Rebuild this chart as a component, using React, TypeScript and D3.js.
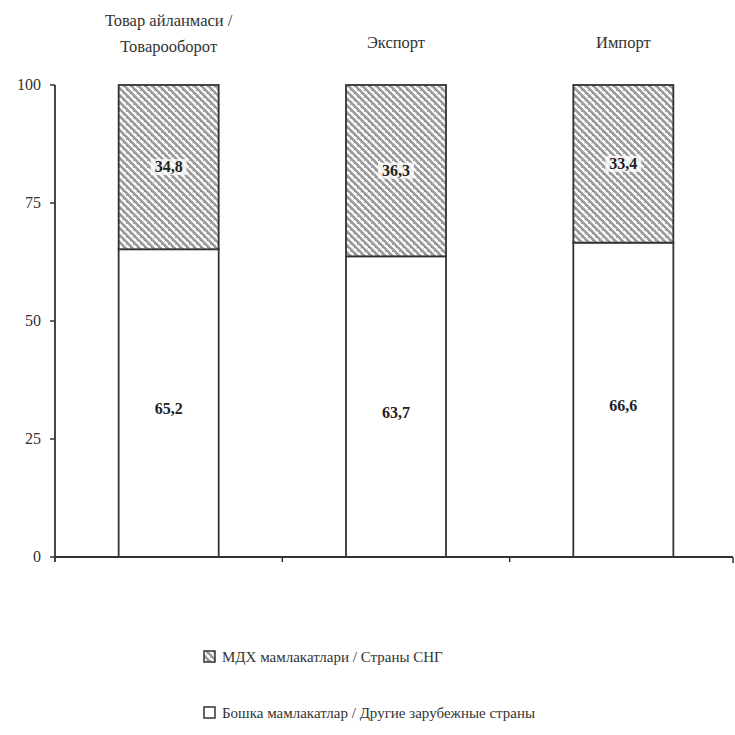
import React from "react";
import * as d3 from "d3";

const categories = ["Товар айланмаси / Товарооборот", "Экспорт", "Импорт"];
const categoryLines = [["Товар айланмаси /", "Товарооборот"], ["Экспорт"], ["Импорт"]];
const otherValues = [65.2, 63.7, 66.6];
const cisValues = [34.8, 36.3, 33.4];
const yTicks = [0, 25, 50, 75, 100];
const legendLabels = ["МДХ мамлакатлари / Страны СНГ", "Бошка мамлакатлар / Другие зарубежные страны"];

const fmt = (v: number) => v.toFixed(1).replace(".", ",");

export default function App() {
  const W = 735, H = 735;
  const x0 = 55, x1 = 737, yTop = 85, yBot = 557;
  const x = d3.scaleBand<string>().domain(categories).range([x0, x1]).padding(0);
  const y = d3.scaleLinear().domain([0, 100]).range([yBot, yTop]);
  const bw = x.bandwidth() * 0.44;
  const font = "Liberation Serif";
  const ink = "#333";
  const fs = { fontFamily: font };

  return (
    <svg width={W} height={H} style={{ position: "absolute", left: 0, top: 0, background: "#fff", fontFamily: font }}>
      <defs>
        <pattern id="hatch" patternUnits="userSpaceOnUse" width="7" height="7">
          <rect width="7" height="7" fill="#9a9a9a" />
          <path d="M-2,-2 L9,9 M-2,5 L2,9 M5,-2 L9,2" stroke="#fff" strokeWidth="2.4" />
          <path d="M0,7 L7,0 M-3.5,3.5 L3.5,-3.5 M3.5,10.5 L10.5,3.5" stroke="#6a6a6a" strokeWidth="0.7" strokeDasharray="2,3" />
        </pattern>
      </defs>
      <rect width={W} height={H} fill="#fff" />

      {/* category titles */}
      {categories.map((c, i) => {
        const lines = categoryLines[i];
        const cx = (x(c) as number) + x.bandwidth() / 2;
        const baseY = lines.length === 2 ? 26 : 48;
        return (
          <text key={c} x={cx} y={baseY} textAnchor="middle" fontSize={16.5} fill={ink} style={fs}>
            {lines.map((l, j) => (
              <tspan key={j} x={cx} dy={j === 0 ? 0 : 26}>{l}</tspan>
            ))}
          </text>
        );
      })}

      {/* bars */}
      {categories.map((c, i) => {
        const bx = (x(c) as number) + (x.bandwidth() - bw) / 2;
        const o = otherValues[i];
        const s = cisValues[i];
        return (
          <g key={c}>
            <rect x={bx} y={y(o)} width={bw} height={y(0) - y(o)} fill="#fff" stroke={ink} strokeWidth={1.8} />
            <rect x={bx} y={y(o + s)} width={bw} height={y(o) - y(o + s)} fill="url(#hatch)" stroke={ink} strokeWidth={1.8} />
          </g>
        );
      })}

      {/* value labels */}
      {categories.map((c, i) => {
        const cx = (x(c) as number) + x.bandwidth() / 2;
        const o = otherValues[i];
        const s = cisValues[i];
        const yc1 = y(o / 2) + 6;
        const yc2 = y(o + s / 2);
        return (
          <g key={c} fontWeight="bold" fontSize={16} fill="#222" style={fs}>
            <text x={cx} y={yc1 + 5} textAnchor="middle" style={fs}>{fmt(o)}</text>
            <rect x={cx - 18} y={yc2 - 8} width={36} height={16} fill="#fff" opacity={0.8} />
            <text x={cx} y={yc2 + 5} textAnchor="middle" style={fs}>{fmt(s)}</text>
          </g>
        );
      })}

      {/* y axis */}
      <line x1={x0} x2={x0} y1={y(100)} y2={y(0) + 5} stroke={ink} strokeWidth={1.8} />
      {yTicks.map(t => (
        <g key={t}>
          <line x1={x0 - 5} x2={x0} y1={y(t)} y2={y(t)} stroke={ink} strokeWidth={1.5} />
          <text x={x0 - 14} y={y(t) + 5} textAnchor="end" fontSize={16} fill={ink} style={fs}>{t}</text>
        </g>
      ))}

      {/* x axis */}
      <line x1={x0} x2={733} y1={y(0)} y2={y(0)} stroke={ink} strokeWidth={1.8} />
      {categories.slice(1).map(c => (
        <line key={c} x1={x(c) as number} x2={x(c) as number} y1={y(0)} y2={y(0) + 5} stroke={ink} strokeWidth={1.5} />
      ))}
      <line x1={733} x2={733} y1={y(0)} y2={y(0) + 6} stroke={ink} strokeWidth={1.5} />

      {/* legend */}
      {legendLabels.map((l, i) => {
        const ly = 657 + i * 56;
        return (
          <g key={l}>
            <rect x={204} y={ly - 6} width={11} height={11} fill={i === 0 ? "url(#hatch)" : "#fff"} stroke={ink} strokeWidth={1.5} />
            <text x={222} y={ly + 5} fontSize={15} fill={ink} style={fs}>{l}</text>
          </g>
        );
      })}
    </svg>
  );
}
